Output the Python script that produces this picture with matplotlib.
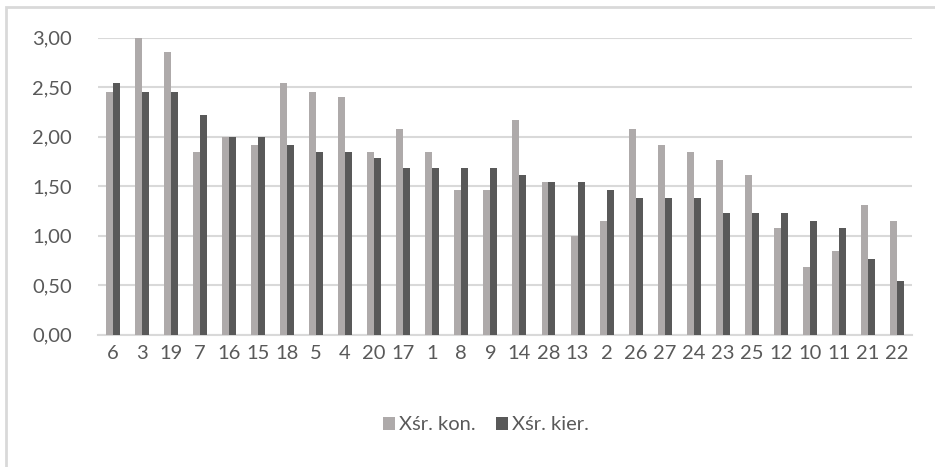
import numpy as np
import matplotlib.pyplot as plt
from matplotlib.patches import Rectangle

categories = ['6', '3', '19', '7', '16', '15', '18', '5', '4', '20', '17', '1', '8', '9',
              '14', '28', '13', '2', '26', '27', '24', '23', '25', '12', '10', '11', '21', '22']
kon = [2.45, 3.00, 2.86, 1.85, 2.00, 1.92, 2.54, 2.45, 2.40, 1.85, 2.08, 1.85, 1.46, 1.46,
       2.17, 1.54, 1.00, 1.15, 2.08, 1.92, 1.85, 1.77, 1.61, 1.08, 0.69, 0.85, 1.31, 1.15]
kier = [2.54, 2.45, 2.45, 2.22, 2.00, 2.00, 1.92, 1.85, 1.85, 1.79, 1.69, 1.69, 1.69, 1.69,
        1.61, 1.54, 1.54, 1.46, 1.38, 1.38, 1.38, 1.23, 1.23, 1.23, 1.15, 1.08, 0.77, 0.54]

plt.rcParams['font.family'] = ['Lato', 'DejaVu Sans']
text_col = '#595959'

fig = plt.figure(figsize=(9.35, 4.67), dpi=100)
ax = fig.add_axes([0.105, 0.283, 0.87, 0.636])

x = np.arange(len(categories))
w = 0.24
ax.bar(x - w / 2, kon, w, color='#aeaaaa', label='Xśr. kon.', zorder=3)
ax.bar(x + w / 2, kier, w, color='#595959', label='Xśr. kier.', zorder=3)

ax.set_xlim(-0.5, len(categories) - 0.5)
ax.set_ylim(0, 3.0)
ax.set_yticks(np.arange(0, 3.01, 0.5))
ax.set_yticklabels([f'{v:.2f}'.replace('.', ',') for v in np.arange(0, 3.01, 0.5)])
ax.set_xticks(x)
ax.set_xticklabels(categories)
ax.tick_params(axis='y', length=0, pad=19, labelsize=14.5, labelcolor=text_col)
ax.tick_params(axis='x', length=0, pad=7, labelsize=14.5, labelcolor=text_col)
ax.grid(axis='y', color='#d9d9d9', linewidth=1.5, zorder=0)
for s in ['top', 'right', 'left']:
    ax.spines[s].set_visible(False)
ax.spines['bottom'].set_color('#d9d9d9')
ax.spines['bottom'].set_linewidth(1.5)

fig.legend(loc='center', bbox_to_anchor=(0.52, 0.09), ncol=2, frameon=False,
           fontsize=14.5, labelcolor=text_col, handlelength=0.6, handleheight=0.6,
           handletextpad=0.2, columnspacing=1.0)

fig.patches.append(Rectangle((6 / 935, -0.1), 1.2, 1 - 7 / 467 + 0.1, transform=fig.transFigure,
                             fill=False, edgecolor='#d9d9d9', linewidth=2))

fig.savefig('out.png', dpi=100)
